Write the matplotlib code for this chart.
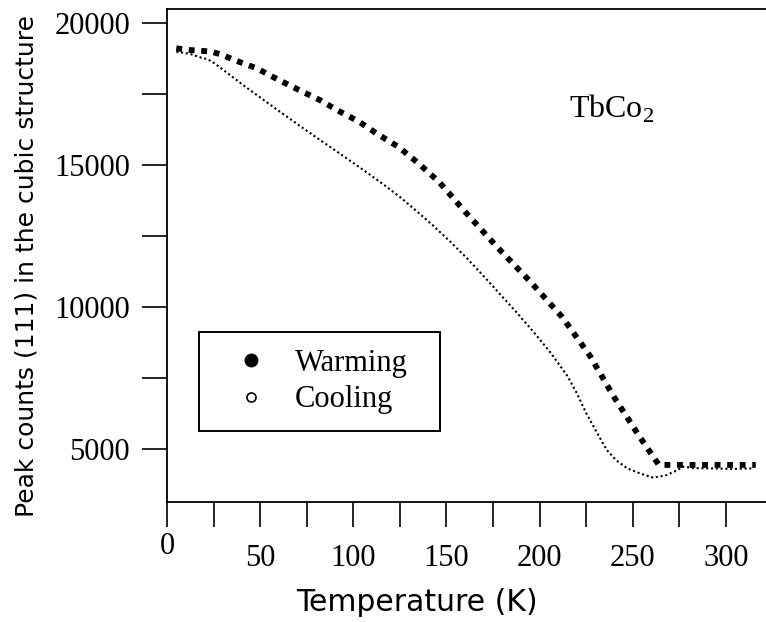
#!/usr/bin/env python

"""
Peak counts of the cubic (111) reflection of TbCo2 against temperature,
one warming run and one cooling run. Values read off a scanned figure.
"""

import matplotlib
matplotlib.use("Agg")
import matplotlib.pyplot as plt
from matplotlib.lines import Line2D
from matplotlib.ticker import MultipleLocator
from matplotlib.transforms import ScaledTranslation

# warming run
warm_T = [5, 12, 18, 24, 30, 36, 48, 59, 70, 82, 92, 103, 113, 124, 135,
          146, 160, 177, 195, 212, 227, 240, 254, 264, 290, 316]
warm_counts = [19100, 19040, 19015, 18980, 18860, 18690, 18400, 18020, 17660,
               17280, 16900, 16520, 16080, 15640, 15050, 14400, 13350, 12120,
               10890, 9650, 8280, 6820, 5400, 4440, 4440, 4440]

# cooling run
cool_T = [5, 9, 13, 18, 22, 26, 30, 34, 38, 42, 50, 58, 67, 75, 84, 92, 101,
          109, 117, 125, 134, 143, 152, 161, 170, 179, 188, 197, 206, 215,
          220, 225, 231, 236, 241, 247, 254, 261, 268, 274, 277, 283, 304, 315]
cool_counts = [18980, 18945, 18890, 18780, 18710, 18550, 18350, 18150, 17950,
               17750, 17370, 16990, 16570, 16200, 15790, 15430, 15020, 14650,
               14270, 13870, 13370, 12850, 12300, 11710, 11080, 10430, 9780,
               9100, 8380, 7560, 6960, 6260, 5550, 4970, 4610, 4320, 4140,
               3990, 4080, 4260, 4380, 4330, 4300, 4320]

legend_labels = ["Warming", "Cooling"]

SERIF = "Liberation Serif"
plt.rcParams["mathtext.fontset"] = "custom"
plt.rcParams["mathtext.rm"] = SERIF
plt.rcParams["axes.linewidth"] = 1.3

fig = plt.figure(figsize=(7.66, 6.22), dpi=100)
ax = fig.add_axes([0.2180, 0.1934, 0.7820, 0.7916])

ax.plot(warm_T, warm_counts, color="black", lw=4.2, ls=(0, (1, 1.15)),
        dash_capstyle="butt")
ax.plot(cool_T, cool_counts, color="black", lw=1.5, ls=(0, (1, 1.3)),
        dash_capstyle="butt")

ax.set_xlim(0, 321.5)
ax.set_ylim(3146, 20471)

ax.spines["right"].set_visible(False)

ax.xaxis.set_major_locator(MultipleLocator(50))
ax.xaxis.set_minor_locator(MultipleLocator(25))
ax.yaxis.set_major_locator(MultipleLocator(5000))
ax.yaxis.set_minor_locator(MultipleLocator(2500))
ax.tick_params(which="both", direction="out", length=18, width=1.2)
ax.tick_params(axis="x", pad=12.5)
ax.tick_params(axis="y", pad=8.5)
for lab in ax.get_xticklabels() + ax.get_yticklabels():
  lab.set_fontfamily(SERIF)
  lab.set_fontsize(22)

ax.set_xlabel("Temperature (K)", fontsize=21.5, family="DejaVu Sans")
ax.set_ylabel("Peak counts (111) in the cubic structure", fontsize=18,
              family="DejaVu Sans")
ax.xaxis.set_label_coords(0.4165, -0.176)
ax.yaxis.set_label_coords(-0.2137, 0.479)

ax.text(0.671, 0.781, r"TbCo$_\mathrm{2}$", transform=ax.transAxes,
        family=SERIF, fontsize=23, ha="left", va="baseline")

# legend shows the symbols of the original plot, not the line styles
handles = [Line2D([], [], ls="none", marker="o", ms=9, mfc="black", mec="black"),
           Line2D([], [], ls="none", marker="o", ms=6.5, mfc="none", mec="black",
                  mew=1.2)]
leg = ax.legend(handles, legend_labels, loc="lower left",
                bbox_to_anchor=(0.0534, 0.1436, 0.4023, 0.2), mode="expand",
                borderaxespad=0, borderpad=0.55, labelspacing=0.245,
                handlelength=2.3, handletextpad=0.29, numpoints=1,
                fancybox=False, framealpha=1, edgecolor="black",
                prop={"family": SERIF, "size": 22})
leg.get_frame().set_linewidth(1.4)

# the "0" label sits a bit higher than the others in the original
fig.canvas.draw()
for tick in ax.xaxis.get_major_ticks():
  if tick.get_loc() == 0:
    lab = tick.label1
    lab.set_transform(lab.get_transform() +
                      ScaledTranslation(0, 12 / 100.0, fig.dpi_scale_trans))

fig.savefig("out.png", dpi=100)
